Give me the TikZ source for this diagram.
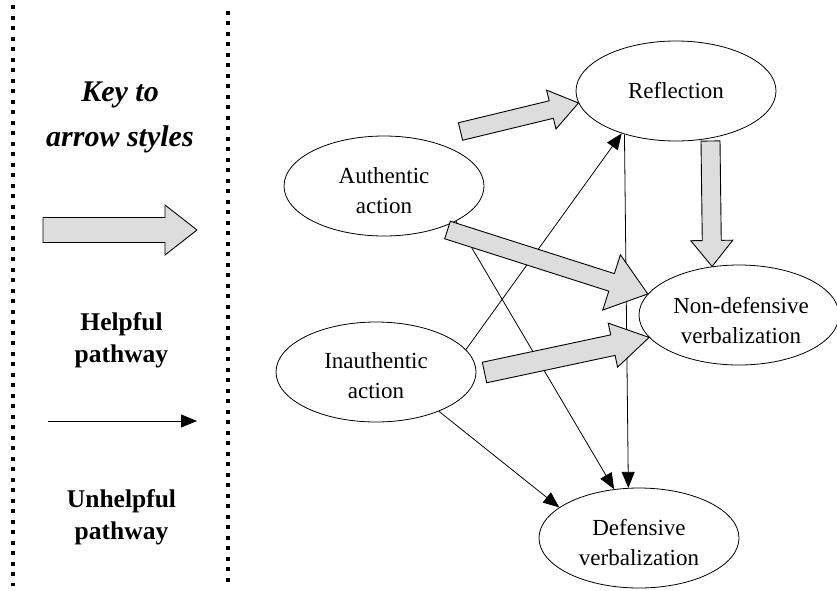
\documentclass[tikz,border=0pt]{standalone}
\usepackage{fontspec}
\setmainfont{Liberation Serif}
\usetikzlibrary{calc,arrows.meta,shapes.geometric}

\definecolor{fatgray}{RGB}{221,221,221}

\tikzset{
  bubble/.style={draw, ellipse, minimum width=200pt, minimum height=100pt,
    inner sep=0pt, line width=0.8pt},
  bubbletext/.style={align=center, inner sep=0pt, font=\fontsize{23}{30}\selectfont},
  thinarrow/.style={line width=0.8pt, -{Triangle[length=16pt,width=13pt]}},
  fatarrow/.style={fill=fatgray, draw=black, line width=0.9pt, line join=miter},
  divider/.style={line width=4pt, dash pattern=on 4pt off 6.5pt},
  keytitle/.style={align=center, inner sep=0pt,
    font=\fontsize{30}{45}\selectfont\bfseries\itshape},
  keylabel/.style={align=center, inner sep=0pt,
    font=\fontsize{25.5}{32}\selectfont\bfseries},
}

% outlined block arrow: #1 tail, #2 tip, #3 half shaft width,
% #4 half head width, #5 head length
\newcommand\blockarrow[5]{%
  \path ($(#2)!#5!(#1)$) coordinate (#2-base);
  \filldraw[fatarrow]
    ($(#1)!#3!90:(#2)$) -- ($(#2-base)!#3!90:(#2)$) --
    ($(#2-base)!#4!90:(#2)$) -- (#2) --
    ($(#2-base)!#4!-90:(#2)$) -- ($(#2-base)!#3!-90:(#2)$) --
    ($(#1)!#3!-90:(#2)$) -- cycle;
}

\begin{document}
\begin{tikzpicture}[x=1pt, y=-1pt]
  \useasboundingbox (0,0) rectangle (837,590);

  % key panel borders
  \draw[divider] (12.5,5) -- (12.5,586);
  \draw[divider] (228,10.5) -- (228,586);

  % key panel
  \node[keytitle] (keytitle) at (120,117.5) {Key to\\arrow styles};
  \coordinate (keyfatS) at (43,230);
  \coordinate (keyfatE) at (197,230);
  \blockarrow{keyfatS}{keyfatE}{12.5pt}{25pt}{32pt}
  \node[keylabel] (helpful) at (121.5,340) {Helpful\\pathway};
  \coordinate (keythinS) at (48,421);
  \coordinate (keythinE) at (197,421);
  \draw[thinarrow] (keythinS) -- (keythinE);
  \node[keylabel] (unhelpful) at (121.5,517) {Unhelpful\\pathway};

  % states
  \node[bubble] (refl)   at (676,91)  {};
  \node[bubble] (auth)   at (384,186) {};
  \node[bubble] (inauth) at (376,372) {};
  \node[bubble] (nondef) at (739,315) {};
  \node[bubble] (def)    at (639,538) {};

  \node[bubbletext] (reflT)   at (676,90.2)  {Reflection};
  \node[bubbletext] (authT)   at (384,190.2) {Authentic\\action};
  \node[bubbletext] (inauthT) at (376,375.2) {Inauthentic\\action};
  \node[bubbletext] (nondefT) at (741,320.2) {Non-defensive\\verbalization};
  \node[bubbletext] (defT)    at (639,542.2) {Defensive\\verbalization};

  % unhelpful pathways
  \draw[thinarrow] (inauth.14)  -- (refl.218);
  \draw[thinarrow] (auth.334)   -- (def.117);
  \draw[thinarrow] (refl.220)   -- (def.102);
  \draw[thinarrow] (inauth.328) -- (def.159);

  % helpful pathways
  \coordinate (fatAS) at (460.5,131.5);
  \coordinate (fatAE) at (refl.187);
  \blockarrow{fatAS}{fatAE}{9pt}{20pt}{28pt}
  \coordinate (fatBS) at (447.5,230);
  \coordinate (fatBE) at (nondef.167);
  \blockarrow{fatBS}{fatBE}{9.2pt}{29pt}{38pt}
  \coordinate (fatCS) at (484.5,372.5);
  \coordinate (fatCE) at (nondef.194);
  \blockarrow{fatCS}{fatCE}{10.5pt}{22.5pt}{37pt}
  \coordinate (fatDS) at (710.5,141);
  \coordinate (fatDE) at (nondef.119);
  \blockarrow{fatDS}{fatDE}{9.5pt}{21pt}{26pt}
\end{tikzpicture}
\end{document}
